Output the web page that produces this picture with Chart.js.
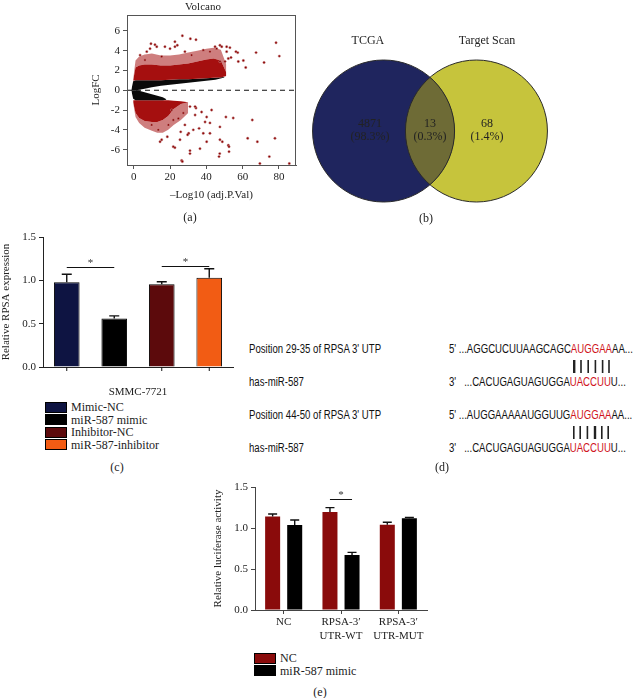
<!DOCTYPE html>
<html>
<head>
<meta charset="utf-8">
<script src="https://cdn.jsdelivr.net/npm/chart.js@4.4.0/dist/chart.umd.min.js"></script>
<style>
  body { margin: 0; background: #fff; }
  #page { position: relative; width: 639px; height: 698px; overflow: hidden; font-family: 'Liberation Serif', serif; color: #222; }
  canvas { position: absolute; }
  .lbl { position: absolute; transform: translate(-50%, -50%); font-size: 12px; white-space: nowrap; }
  .seq { position: absolute; transform: translateY(-50%) scaleX(0.8); transform-origin: 0 50%; line-height: 14px; font-family: 'Liberation Sans Narrow', 'Liberation Sans', sans-serif; font-size: 12px; white-space: nowrap; color: #111; }
  .red { color: #d0141c; }
  .pr { position: relative; }
  .pr::after { content: ''; position: absolute; left: 50%; margin-left: -1px; top: 18px; width: 2.4px; height: 13px; background: #222; }
  .leg { position: absolute; font-size: 12px; white-space: nowrap; color: #222; }
  .leg div { line-height: 12.5px; height: 12.5px; }
  .leg .box { display: inline-block; width: 20px; height: 9px; border: 1px solid #000; vertical-align: middle; margin-right: 4px; margin-top: -2px; }
</style>
</head>
<body>
<div id="page">
  <canvas id="volcano" width="222" height="205" style="left:85px;top:0px"></canvas>
  <div class="lbl" style="left:203px;top:6px;font-size:11px">Volcano</div>
  <div class="lbl" style="left:190px;top:217px">(a)</div>

  <canvas id="venn" width="260" height="200" style="left:300px;top:31px"></canvas>
  <div class="lbl" style="left:426px;top:218px">(b)</div>

  <canvas id="rpsa" width="240" height="170" style="left:0px;top:225px"></canvas>
  <div class="leg" id="rpsaLegend" style="left:45px;top:401px"></div>
  <div class="lbl" style="left:117px;top:467px">(c)</div>

  <div id="seqs"></div>
  <div class="lbl" style="left:442px;top:467px">(d)</div>

  <canvas id="luc" width="225" height="170" style="left:210px;top:475px"></canvas>
  <div class="leg" id="lucLegend" style="left:254px;top:652px"></div>
  <div class="lbl" style="left:320px;top:692px">(e)</div>
</div>
<script>
// ---------- (a) volcano ----------
const volcanoXTicks = [0, 20, 40, 60, 80];
const volcanoYTicks = [-6, -4, -2, 0, 2, 4, 6];

const upX         = [-0.3, 1, 3, 6, 10, 15, 20, 25, 30, 35, 40, 44, 48, 51];
const upRedLo     = [0.95, 1.0, 1.0, 1.0, 1.0, 1.0, 1.05, 1.1, 1.1, 1.15, 1.2, 1.25, 1.3, 1.45];
const upRedHi     = [1.0, 2.3, 2.5, 2.6, 2.6, 2.5, 2.5, 2.6, 2.7, 2.9, 3.1, 3.2, 3.0, 1.8];
const upSparseHi  = [1.1, 3.0, 3.4, 3.6, 3.7, 3.5, 3.5, 3.6, 3.8, 4.0, 4.2, 4.3, 4.1, 2.6];

const upBlackX    = [-1.3, -0.3, 1, 3, 6, 10, 15, 20, 25, 30, 35, 40, 45, 50];
const upBlackLo   = [0, 0, 0, 0.05, 0.15, 0.3, 0.45, 0.55, 0.65, 0.75, 0.85, 0.95, 1.05, 1.3];
const upBlackHi   = [0.05, 0.9, 1.0, 1.0, 1.0, 1.0, 1.0, 1.05, 1.1, 1.1, 1.15, 1.2, 1.25, 1.35];

const lowBlackX   = [-1.3, -0.3, 1, 3, 6, 10, 13, 16, 18];
const lowBlackLo  = [-0.05, -0.85, -1.0, -1.0, -1.0, -1.0, -1.0, -1.0, -0.95];
const lowBlackHi  = [0, 0, 0, -0.05, -0.2, -0.4, -0.55, -0.7, -0.9];

const lowX        = [-0.3, 1, 3, 6, 10, 13, 16, 19, 22, 26, 30];
const lowRedHi    = [-1.0, -1.0, -1.0, -1.0, -1.0, -1.0, -1.0, -1.0, -1.05, -1.1, -1.2];
const lowRedLo    = [-1.2, -2.3, -2.8, -3.1, -3.2, -3.2, -3.0, -2.6, -1.9, -1.4, -1.2];
const lowSparseLo = [-1.3, -2.7, -3.3, -3.8, -4.1, -4.3, -4.3, -4.0, -3.5, -3.0, -2.3];

// scattered genes outside the dense cloud
const volcanoPts = [
  [78.4, 4.8], [80.2, 3.45], [71.8, 2.8], [67.4, 3.8], [60.4, 3.0], [57.3, 3.8], [61.7, 2.3],
  [56.3, 3.9], [53.6, 3.3], [50.3, 2.9], [57.6, 2.9], [51.2, 3.9], [45.7, 4.2], [48.5, 4.4],
  [53.0, 4.3], [47.5, 2.9], [52.1, 3.2], [31.2, 5.2], [26.8, 5.5], [22.7, 4.9], [9.5, 4.7],
  [12.7, 4.4], [20.0, 4.2], [24.0, 4.55], [9.0, 4.2], [11.7, 4.6], [7.2, 3.9], [17.2, 4.4],
  [22.7, 4.4], [34.3, 5.1], [44.8, 4.4], [47.5, 4.55], [51.2, 4.4], [38.3, 4.05], [42.0, 3.9],
  [31.9, 3.55], [15.4, 3.4], [3.5, 3.55], [6.2, 3.05], [28.2, 3.9],
  [50.8, -2.7], [54.8, -2.8], [65.3, -3.0], [62.8, -4.85], [68.1, -5.2], [77.8, -4.85],
  [74.7, -6.7], [69.5, -7.4], [85.7, -7.4], [47.5, -3.7], [47.4, -6.4], [52.1, -5.55],
  [47.0, -6.7], [31.0, -6.4], [26.4, -7.1], [21.8, -5.7], [36.5, -5.9], [38.3, -4.35],
  [30.3, -4.35], [34.3, -1.8], [42.0, -3.3], [25.9, -4.2], [40.2, -2.7], [18.5, -4.7],
  [15.4, -5.0], [13.5, -4.0], [9.9, -3.5], [21.8, -3.0], [27.3, -2.3], [31.0, -1.65],
  [20.9, -2.0], [47.5, -5.0], [52.5, -5.7], [52.5, -6.2], [48.8, -5.2], [42.0, -4.35],
  [40.2, -5.2], [39.3, -3.2], [36.0, -3.85], [31.0, -6.1], [26.8, -7.2], [22.7, -5.8],
  [14.5, -5.2], [25.5, -5.0], [29.7, -4.5], [32.8, -4.0], [33.8, -2.5], [42.9, -2.0],
  [37.4, -2.2], [24.6, -2.85], [19.1, -3.5], [28.2, -3.5], [33.8, -1.65]
];

// ---------- (b) venn ----------
const vennSets = ['TCGA', 'Target Scan'];
const vennCounts = [4871, 13, 68];
const vennShares = ['98.3%', '0.3%', '1.4%'];

// ---------- (c) RPSA expression ----------
const rpsaCells = ['SMMC-7721'];
const rpsaGroups = ['Mimic-NC', 'miR-587 mimic', 'Inhibitor-NC', 'miR-587-inhibitor'];
const rpsaMean = [0.977, 0.56, 0.954, 1.03];
const rpsaErr = [1.07, 0.59, 0.984, 1.134];
const rpsaSig = [[0, 1, 1.155], [2, 3, 1.165]];
const rpsaTicks = [0, 0.5, 1.0, 1.5];

// ---------- (e) luciferase ----------
const lucCats = ['NC', ['RPSA-3\u2032', 'UTR-WT'], ['RPSA-3\u2032', 'UTR-MUT']];
const lucNC = [1.14, 1.195, 1.04];
const lucNCErr = [1.17, 1.248, 1.07];
const lucMimic = [1.037, 0.671, 1.118];
const lucMimicErr = [1.098, 0.703, 1.13];
const lucSig = [[1, 1.354]];

Chart.defaults.font.family = "'Liberation Serif', serif";
Chart.defaults.font.size = 11;
Chart.defaults.color = '#222';
Chart.defaults.animation = false;
Chart.defaults.events = [];
Chart.defaults.plugins.legend.display = false;
Chart.defaults.plugins.tooltip.enabled = false;
Chart.defaults.layout.autoPadding = false;

// box round the volcano plot
const framePlugin = {
  id: 'frame',
  afterDraw(chart) {
    const {ctx, chartArea: a} = chart;
    ctx.save();
    ctx.strokeStyle = '#555';
    ctx.lineWidth = 1;
    ctx.strokeRect(a.left + 0.5, a.top + 0.5, a.right - a.left - 1, a.bottom - a.top);
    ctx.restore();
  }
};

function band(xs, lo, hi, color) {
  return [
    { type: 'line', data: xs.map((x, i) => ({x, y: lo[i]})), pointRadius: 0, borderWidth: 0, fill: false },
    { type: 'line', data: xs.map((x, i) => ({x, y: hi[i]})), pointRadius: 0, borderWidth: 0, fill: '-1', backgroundColor: color }
  ];
}

const DENSE_RED = '#a50f0f';
const SPARSE_RED = 'rgba(165,20,20,0.55)';

new Chart(document.getElementById('volcano'), {
  type: 'scatter',
  data: {
    datasets: [
      { data: volcanoPts.map(p => ({x: p[0], y: p[1]})), pointRadius: 1.2, borderWidth: 1,
        backgroundColor: '#8b0000', borderColor: 'rgba(205,150,150,0.5)' },
      { type: 'line', data: [{x: -3.7, y: 0}, {x: 89.4, y: 0}], borderColor: '#111', borderWidth: 1.2,
        borderDash: [5, 4], pointRadius: 0 },
      ...band(upX, upRedLo, upRedHi, DENSE_RED),
      ...band(upBlackX, upBlackLo, upBlackHi, '#0a0a0a'),
      ...band(lowBlackX, lowBlackLo, lowBlackHi, '#0a0a0a'),
      ...band(lowX, lowRedLo, lowRedHi, DENSE_RED),
      ...band(upX, upRedHi, upSparseHi, SPARSE_RED),
      ...band(lowX, lowSparseLo, lowRedLo, SPARSE_RED)
    ]
  },
  options: {
    responsive: false,
    layout: { padding: { top: 15, right: 11, left: 0, bottom: 0 } },
    scales: {
      x: {
        type: 'linear', min: -3.7, max: 89.4,
        afterBuildTicks: s => { s.ticks = volcanoXTicks.map(v => ({value: v})); },
        afterFit: s => { s.height = 40; },
        grid: { drawOnChartArea: false, tickLength: 4, color: '#555' },
        border: { color: '#555' },
        ticks: { padding: 2 },
        title: { display: true, text: '\u2013Log10 (adj.P.Val)', padding: { top: 0, bottom: 3 } }
      },
      y: {
        min: -7.55, max: 7.6,
        afterBuildTicks: s => { s.ticks = volcanoYTicks.map(v => ({value: v})); },
        afterFit: s => { s.width = 42; },
        grid: { drawOnChartArea: false, tickLength: 4, color: '#555' },
        border: { color: '#555' },
        ticks: { padding: 3 },
        title: { display: true, text: 'LogFC', padding: { top: 5, bottom: 0 } }
      }
    }
  },
  plugins: [framePlugin]
});

// ---------- venn ----------
const vennPlugin = {
  id: 'vennLens',
  afterDatasetsDraw(chart) {
    const ctx = chart.ctx;
    const a = chart.getDatasetMeta(0).data[0];
    const b = chart.getDatasetMeta(1).data[0];
    const r = a.options.radius;
    ctx.save();
    ctx.beginPath(); ctx.arc(a.x, a.y, r, 0, Math.PI * 2); ctx.clip();
    ctx.beginPath(); ctx.arc(b.x, b.y, r, 0, Math.PI * 2);
    ctx.fillStyle = '#6e6b36'; ctx.fill();
    ctx.restore();
    ctx.save();
    ctx.strokeStyle = '#2a2a2a'; ctx.lineWidth = 1;
    [a, b].forEach(p => { ctx.beginPath(); ctx.arc(p.x, p.y, r, 0, Math.PI * 2); ctx.stroke(); });
    ctx.font = "12px 'Liberation Serif'";
    ctx.fillStyle = '#222';
    ctx.textAlign = 'center';
    ctx.textBaseline = 'middle';
    ctx.fillText(vennSets[0], a.x - 0.22 * r, a.y - r - 19);
    ctx.fillText(vennSets[1], b.x + 0.15 * r, b.y - r - 19);
    const xs = [a.x - 0.19 * r, (a.x + b.x) / 2, b.x + 0.15 * r];
    vennCounts.forEach((c, i) => {
      ctx.fillText(String(c), xs[i], a.y - 7);
      ctx.fillText('(' + vennShares[i] + ')', xs[i], a.y + 6);
    });
    ctx.restore();
  }
};

new Chart(document.getElementById('venn'), {
  type: 'scatter',
  data: {
    datasets: [
      { label: vennSets[0], data: [{x: -0.5, y: 0}], pointRadius: 71, backgroundColor: '#1f255e', borderWidth: 0 },
      { label: vennSets[1], data: [{x: 0.5, y: 0}], pointRadius: 71, backgroundColor: '#c6c43c', borderWidth: 0 }
    ]
  },
  options: {
    responsive: false,
    scales: {
      x: { display: false, min: -1.4, max: 1.4 },
      y: { display: false, min: -1, max: 1 }
    }
  },
  plugins: [vennPlugin]
});

// ---------- error bars, brackets, ticks for the bar charts ----------
const barExtras = {
  id: 'barExtras',
  afterDatasetsDraw(chart, args, opts) {
    const {ctx} = chart;
    const y = chart.scales.y;
    ctx.save();
    ctx.strokeStyle = '#111';
    ctx.lineWidth = 1.4;
    chart.data.datasets.forEach((ds, i) => {
      if (!ds.err) return;
      chart.getDatasetMeta(i).data.forEach((bar, j) => {
        const top = y.getPixelForValue(ds.err[j]);
        ctx.beginPath();
        ctx.moveTo(bar.x, bar.y);
        ctx.lineTo(bar.x, top);
        ctx.moveTo(bar.x - opts.cap / 2, top);
        ctx.lineTo(bar.x + opts.cap / 2, top);
        ctx.stroke();
      });
    });
    // significance brackets
    ctx.lineWidth = 1;
    ctx.fillStyle = '#333';
    ctx.font = "11px 'Liberation Serif'";
    ctx.textAlign = 'center';
    (opts.sig || []).forEach(s => {
      const p = opts.pair(chart, s);
      const py = Math.round(y.getPixelForValue(p.v)) + 0.5;
      ctx.beginPath();
      ctx.moveTo(p.x1, py);
      ctx.lineTo(p.x2, py);
      ctx.stroke();
      ctx.fillText('*', (p.x1 + p.x2) / 2, py - 2);
    });
    // tick marks under chosen bars
    (opts.barTicks || []).forEach(i => {
      const bar = chart.getDatasetMeta(i).data[0];
      const b = chart.chartArea.bottom;
      ctx.beginPath();
      ctx.moveTo(bar.x, b);
      ctx.lineTo(bar.x, b + 4);
      ctx.stroke();
    });
    ctx.restore();
  }
};

// ---------- (c) ----------
const rpsaColors = ['#0e1442', '#000000', '#5c0a0c', '#f25c14'];

new Chart(document.getElementById('rpsa'), {
  type: 'bar',
  data: {
    labels: rpsaCells,
    datasets: rpsaGroups.map((g, i) => ({
      label: g, data: [rpsaMean[i]], err: [rpsaErr[i]],
      backgroundColor: rpsaColors[i], borderColor: '#000', borderWidth: 1,
      categoryPercentage: 1.0, barPercentage: 0.54
    }))
  },
  options: {
    responsive: false,
    layout: { padding: { top: 12, right: 7, left: 0, bottom: 0 } },
    scales: {
      x: {
        grid: { display: false },
        border: { color: '#222' },
        ticks: { padding: 11 },
        afterFit: s => { s.height = 28; }
      },
      y: {
        min: 0, max: 1.5,
        afterBuildTicks: s => { s.ticks = rpsaTicks.map(v => ({value: v})); },
        afterFit: s => { s.width = 43; },
        grid: { drawOnChartArea: false, tickLength: 4, color: '#222' },
        border: { color: '#222' },
        ticks: { padding: 3, callback: v => v.toFixed(1) },
        title: { display: true, text: 'Relative RPSA expression', padding: { top: 0, bottom: 0 } }
      }
    },
    plugins: {
      barExtras: {
        cap: 10,
        sig: rpsaSig,
        barTicks: [0, 2, 3],
        pair: (chart, s) => ({
          x1: chart.getDatasetMeta(s[0]).data[0].x,
          x2: chart.getDatasetMeta(s[1]).data[0].x,
          v: s[2]
        })
      }
    }
  },
  plugins: [barExtras]
});

// ---------- (e) ----------
const lucSeries = [
  { label: 'NC', data: lucNC, err: lucNCErr, color: '#8a0b0b' },
  { label: 'miR-587 mimic', data: lucMimic, err: lucMimicErr, color: '#000000' }
];

new Chart(document.getElementById('luc'), {
  type: 'bar',
  data: {
    labels: lucCats,
    datasets: lucSeries.map(s => ({
      label: s.label, data: s.data, err: s.err,
      backgroundColor: s.color, borderWidth: 0,
      categoryPercentage: 0.77, barPercentage: 0.68
    }))
  },
  options: {
    responsive: false,
    layout: { padding: { top: 12, right: 8, left: 0, bottom: 0 } },
    scales: {
      x: {
        grid: { drawOnChartArea: false, offset: false, tickLength: 4, color: '#444' },
        border: { color: '#444' },
        ticks: { padding: 2 },
        afterFit: s => { s.height = 35; }
      },
      y: {
        min: 0, max: 1.5,
        afterBuildTicks: s => { s.ticks = rpsaTicks.map(v => ({value: v})); },
        afterFit: s => { s.width = 45; },
        grid: { drawOnChartArea: false, tickLength: 4, color: '#444' },
        border: { color: '#444' },
        ticks: { padding: 3, callback: v => v.toFixed(1) },
        title: { display: true, text: 'Relative luciferase activity', padding: { top: 1.5, bottom: 0 } }
      }
    },
    plugins: {
      barExtras: {
        cap: 9,
        sig: lucSig,
        pair: (chart, s) => ({
          x1: chart.getDatasetMeta(0).data[s[0]].x,
          x2: chart.getDatasetMeta(1).data[s[0]].x,
          v: s[1]
        })
      }
    }
  },
  plugins: [barExtras]
});

// ---------- legends ----------
function legend(id, labels, colors) {
  document.getElementById(id).innerHTML = labels.map((l, i) =>
    `<div><span class="box" style="background:${colors[i]}"></span>${l}</div>`).join('');
}
legend('rpsaLegend', rpsaGroups, rpsaColors);
legend('lucLegend', lucSeries.map(s => s.label), lucSeries.map(s => s.color));

// ---------- (d) binding sites ----------
const siteNames = ['Position 29-35 of RPSA 3\' UTP', 'has-miR-587', 'Position 44-50 of RPSA 3\' UTP', 'has-miR-587'];
const siteSeqs = [
  ['5\' ...AGGCUCUUAAGCAGC', 'AUGGAA', 'AA...', true],
  ['3\'\u00a0\u00a0 ...CACUGAGUAGUGGA', 'UACCUU', 'U...', false],
  ['5\' ...AUGGAAAAAUGGUUG', 'AUGGAA', 'AA...', true],
  ['3\'\u00a0\u00a0 ...CACUGAGUAGUGGA', 'UACCUU', 'U...', false]
];
const siteRows = [349, 382, 415, 448];

let html = '';
siteNames.forEach((n, i) => {
  html += `<div class="seq" style="left:249px;top:${siteRows[i]}px">${n}</div>`;
  const [pre, core, post, paired] = siteSeqs[i];
  const coreHtml = paired ? core.split('').map(c => `<span class="pr">${c}</span>`).join('') : core;
  html += `<div class="seq" style="left:449px;top:${siteRows[i]}px">${pre}<span class="red">${coreHtml}</span>${post}</div>`;
});
document.getElementById('seqs').innerHTML = html;
</script>
</body>
</html>
